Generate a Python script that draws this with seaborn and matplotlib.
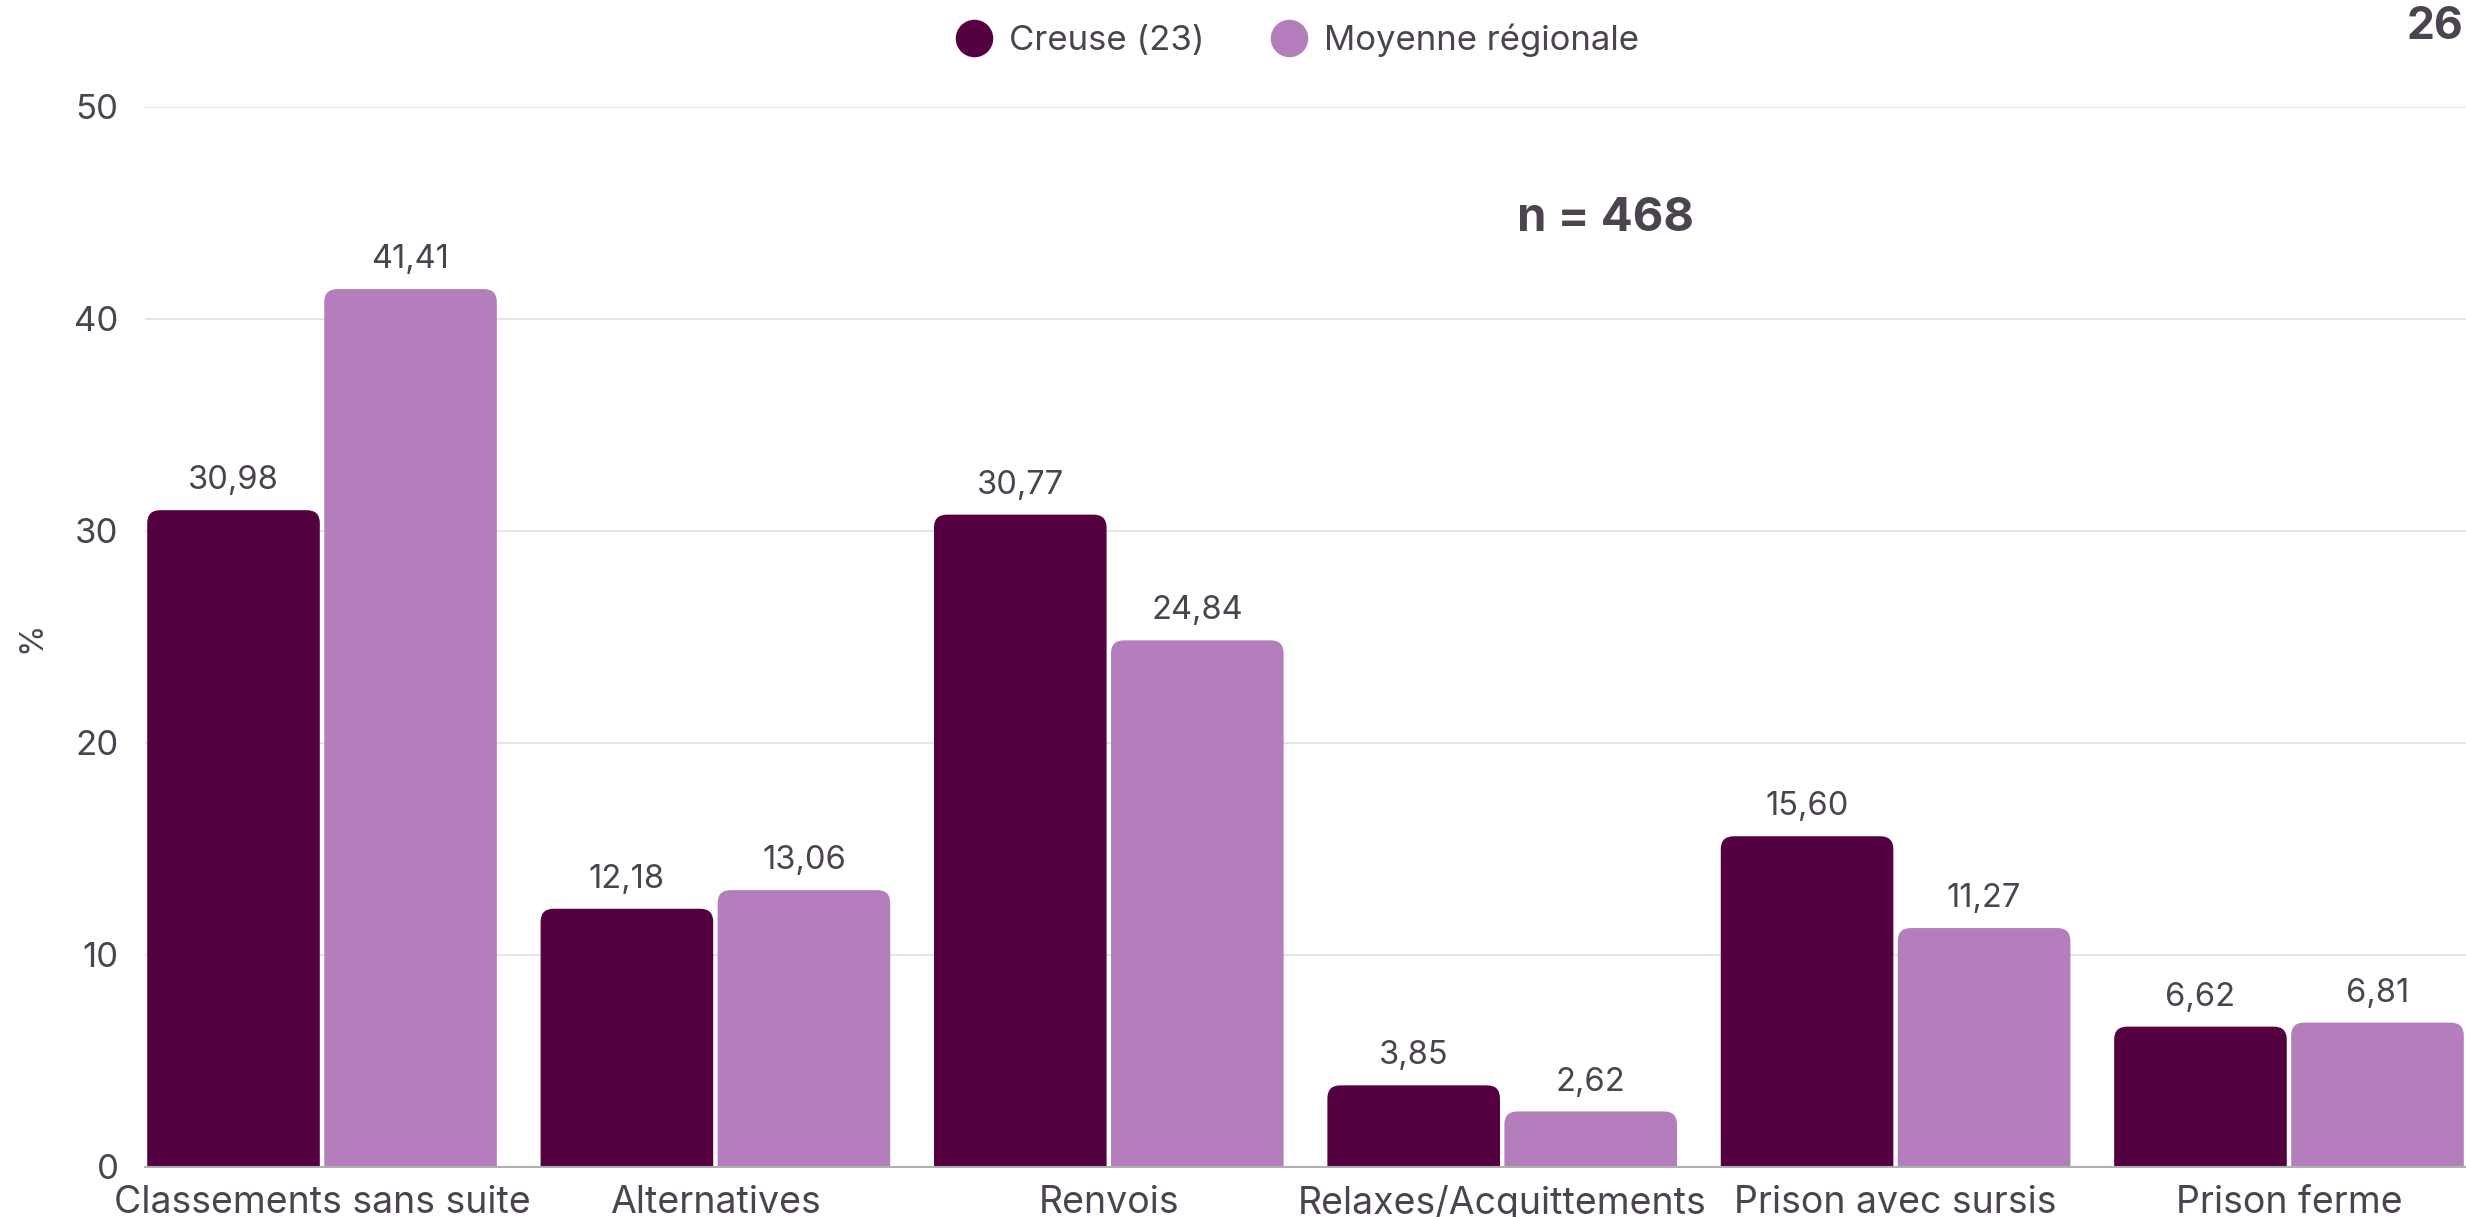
import pandas as pd
import matplotlib.pyplot as plt
import seaborn as sns
from matplotlib.patches import FancyBboxPatch
from matplotlib.lines import Line2D

# Données
categories = ["Classements sans suite", "Alternatives", "Renvois",
              "Relaxes/Acquittements", "Prison avec sursis", "Prison ferme"]
creuse = [30.98, 12.18, 30.77, 3.85, 15.60, 6.62]
regionale = [41.41, 13.06, 24.84, 2.62, 11.27, 6.81]
series = ["Creuse (23)", "Moyenne régionale"]
colors = ["#550041", "#b47dbc"]
y_ticks = [0, 10, 20, 30, 40, 50]

df = pd.DataFrame({
    "categorie": categories * 2,
    "serie": [series[0]] * len(categories) + [series[1]] * len(categories),
    "valeur": creuse + regionale,
})

sns.set_theme(style="white")
plt.rcParams["font.family"] = ["Inter", "DejaVu Sans"]
txt = "#4b4350"

fig = plt.figure(figsize=(24.66, 12.17), dpi=100)
ax = fig.add_axes([0.0588, 0.0411, 0.9412, 0.8710])

sns.barplot(data=df, x="categorie", y="valeur", hue="serie", order=categories,
            hue_order=series, palette=colors, width=0.9, gap=0.025,
            legend=False, ax=ax, saturation=1)

# Étiquettes de valeurs
for cont in ax.containers:
    labs = [f"{b.get_height():.2f}".replace(".", ",") for b in cont]
    ax.bar_label(cont, labels=labs, padding=10, fontsize=23.5, color=txt)

# Barres à coins arrondis (haut)
for p in list(ax.patches):
    x, w, h = p.get_x(), p.get_width(), p.get_height()
    rb = FancyBboxPatch((x, -2), w, h + 2,
                        boxstyle="round,pad=0,rounding_size=0.033",
                        mutation_aspect=18.5, facecolor=p.get_facecolor(),
                        edgecolor="none", zorder=2)
    p.set_visible(False)
    ax.add_patch(rb)

ax.set_xlim(-0.45, 5.45)
ax.set_ylim(0, 50)
ax.set_yticks(y_ticks)
ax.yaxis.grid(True, color="#e2e2e2", linewidth=1.3)
ax.set_axisbelow(True)
for s in ["left", "right", "top"]:
    ax.spines[s].set_visible(False)
ax.spines["bottom"].set_color("#b0b0b0")
ax.spines["bottom"].set_linewidth(1.5)
ax.spines["bottom"].set_zorder(3)
ax.tick_params(axis="y", length=0, pad=19, labelsize=25, labelcolor=txt)
ax.tick_params(axis="x", length=0, pad=13, labelsize=27, labelcolor=txt)
ax.set_xlabel("")
ax.set_ylabel("%", fontsize=23, color=txt)
ax.yaxis.set_label_coords(-0.042, 0.5)

# Légende
handles = [Line2D([], [], marker="o", linestyle="none", markersize=27,
                  markerfacecolor=c, markeredgecolor="none") for c in colors]
fig.legend(handles, series, loc="center", bbox_to_anchor=(0.526, 0.967),
           ncol=2, frameon=False, fontsize=25, labelcolor=txt,
           handletextpad=0.45, columnspacing=1.9, handlelength=1.1)

fig.text(0.651, 0.820, "n = 468", ha="center", va="center", fontsize=34,
         fontweight="bold", color=txt)
fig.text(0.999, 0.978, "26", ha="right", va="center", fontsize=32,
         fontweight="bold", color=txt)

fig.savefig("out.png", dpi=100)
